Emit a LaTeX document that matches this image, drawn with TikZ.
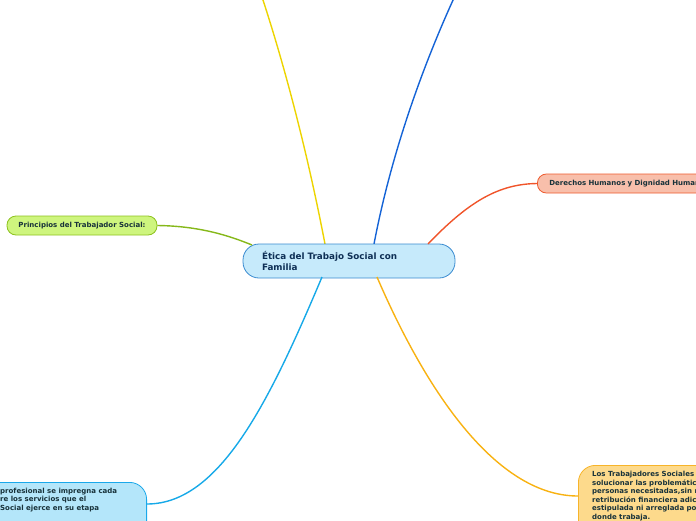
\documentclass[tikz,border=0pt]{standalone}
\usepackage{fontspec}
\setmainfont{DejaVu Sans}
\definecolor{cfill}{HTML}{C6EAFB}\definecolor{cdraw}{HTML}{3A8BD0}
\definecolor{gfill}{HTML}{CEF57E}\definecolor{gdraw}{HTML}{8DC21F}
\definecolor{rfill}{HTML}{F8BFAB}\definecolor{rdraw}{HTML}{EE5A2E}
\definecolor{bfill}{HTML}{B4E6FA}\definecolor{bdraw}{HTML}{1AA8EA}
\definecolor{ofill}{HTML}{FDDA8C}\definecolor{odraw}{HTML}{F7B42A}
\definecolor{ylw}{HTML}{EDD400}\definecolor{blu}{HTML}{1463D6}
\definecolor{grn}{HTML}{86B81A}\definecolor{red1}{HTML}{F0542A}
\definecolor{cyn}{HTML}{17A9E8}\definecolor{org}{HTML}{F8B212}
\definecolor{navy}{HTML}{0E2F55}\definecolor{dtxt}{HTML}{18323A}
\tikzset{
  topic/.style={rounded corners=9pt, line width=0.8pt, inner sep=0pt, minimum height=19pt},
  smalltxt/.style={font=\fontsize{7}{8.6}\selectfont\bfseries, text=dtxt, inner sep=0pt, align=left},
  link/.style={line width=1.4pt}
}
\begin{document}
\begin{tikzpicture}[x=1pt,y=-1pt]
\useasboundingbox (0,0) rectangle (696,520);
\clip (0,0) rectangle (696,520);
% connectors
\coordinate (ytop) at (258,-15);
\coordinate (btop) at (460,-15);
\draw[link, ylw] (325,244) .. controls (305,140) and (280,50) .. (ytop);
\draw[link, blu] (374,244) .. controls (390,160) and (420,70) .. (btop);
% nodes
\node[topic, draw=gdraw, fill=gfill, minimum width=150pt, smalltxt] (princ) at (82,225.5) {Principios del Trabajador Social:};
\node[topic, draw=rdraw, fill=rfill, anchor=west, minimum width=190pt, inner xsep=12pt, text width=166pt, smalltxt] (der) at (537,183.5) {Derechos Humanos y Dignidad Humana};
\node[draw=bdraw, fill=bfill, line width=0.8pt, rounded corners=17pt, anchor=north east, minimum width=220pt, minimum height=60pt] (bl) at (147,482) {};
\node[smalltxt, anchor=north west] (bltxt) at (0,487.5) {profesional se impregna cada\\re los servicios que el\\Social ejerce en su etapa};
\node[draw=odraw, fill=ofill, line width=0.8pt, rounded corners=17pt, anchor=north west, minimum width=180pt, minimum height=80pt] (br) at (578,465) {};
\node[smalltxt, anchor=north west] (brtxt) at (592,471) {Los Trabajadores Sociales\\solucionar las problemátic\\personas necesitadas,sin n\\retribución financiera adic\\estipulada ni arreglada po\\donde trabaja.};
\node[draw=cdraw, fill=cfill, line width=0.8pt, rounded corners=16pt, minimum height=34pt, inner xsep=19pt, inner ysep=0pt, text width=174pt, align=left, font=\fontsize{8.8}{11}\selectfont\bfseries, text=navy] (c) at (349,261) {Ética del Trabajo Social con\\Familia};
\draw[link, grn] (princ.east) .. controls (200,226) and (230,236) .. (252,245);
\draw[link, red1] (428,244) .. controls (470,200) and (500,184) .. (der.west);
\draw[link, cyn] (322,277) .. controls (270,400) and (220,504) .. (147,504);
\draw[link, org] (377,277) .. controls (430,400) and (500,496) .. (578,496);
\end{tikzpicture}
\end{document}
